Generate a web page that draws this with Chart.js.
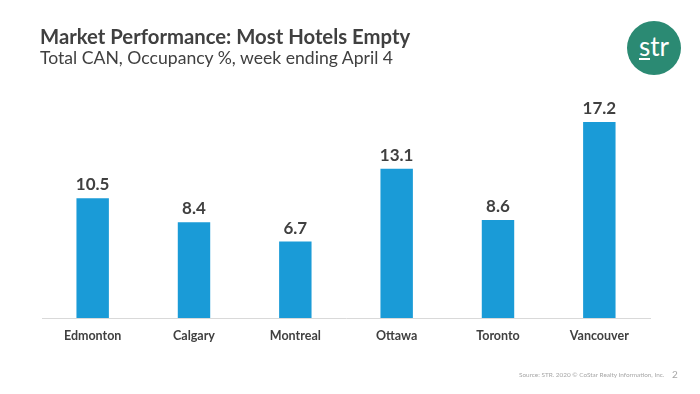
<!DOCTYPE html>
<html>
<head>
<meta charset="utf-8">
<script src="https://cdn.jsdelivr.net/npm/chart.js@4/dist/chart.umd.min.js"></script>
<style>
  body { margin: 0; background: #fff; }
  #wrap { position: relative; width: 700px; height: 394px; overflow: hidden; font-family: Lato, "Open Sans", sans-serif; }
  #chart { position: absolute; left: 0; top: 0; }
  .title { position: absolute; left: 40px; top: 24px; font-size: 20.3px; font-weight: bold; color: #404040; }
  .sub { position: absolute; left: 40px; top: 47px; font-size: 17.6px; color: #404040; }
  .logo { position: absolute; left: 627px; top: 21px; width: 54px; height: 54px; border-radius: 50%; background: #2b8a73; color: #fff; font-size: 26px; text-align: center; line-height: 50px; }
  .logo span { border-bottom: 2px solid #fff; display: inline-block; line-height: 24px; }
  .src { position: absolute; left: 519px; top: 371px; font-size: 6.4px; color: #a6a6a6; }
  .pg { position: absolute; left: 672px; top: 368px; font-size: 10px; color: #a6a6a6; }
</style>
</head>
<body>
<div id="wrap">
  <canvas id="chart" width="700" height="394"></canvas>
  <div class="title">Market Performance: Most Hotels Empty</div>
  <div class="sub">Total CAN, Occupancy %, week ending April 4</div>
  <div class="logo"><span>s</span>tr</div>
  <div class="src">Source: STR. 2020 © CoStar Realty Information, Inc.</div>
  <div class="pg">2</div>
</div>
<script>
const markets = ['Edmonton', 'Calgary', 'Montreal', 'Ottawa', 'Toronto', 'Vancouver'];
const occupancy = [10.5, 8.4, 6.7, 13.1, 8.6, 17.2];

// value labels above each bar
const valueLabels = {
    id: 'valueLabels',
    afterDatasetsDraw(chart) {
        const ctx = chart.ctx;
        const meta = chart.getDatasetMeta(0);
        ctx.save();
        ctx.font = 'bold 17px Lato, "Open Sans", sans-serif';
        ctx.fillStyle = '#404040';
        ctx.textAlign = 'center';
        ctx.textBaseline = 'bottom';
        meta.data.forEach((bar, i) => {
            ctx.fillText(occupancy[i].toFixed(1), bar.x, bar.y - 5);
        });
        ctx.restore();
    }
};

const myChart = new Chart(document.getElementById('chart'), {
    type: 'bar',
    data: {
        labels: markets,
        datasets: [{
            data: occupancy,
            backgroundColor: '#1a9bd7',
            categoryPercentage: 1,
            barPercentage: 0.32
        }]
    },
    options: {
        responsive: false,
        animation: false,
        layout: { padding: { left: 42, right: 50, top: 90, bottom: 0 } },
        plugins: { legend: { display: false }, tooltip: { enabled: false } },
        scales: {
            x: {
                grid: { display: false, drawTicks: false },
                border: { display: true, color: '#d9d9d9', width: 1 },
                ticks: {
                    color: '#404040',
                    padding: 10,
                    font: { family: 'Lato, "Open Sans", sans-serif', size: 12.5, weight: 'bold' }
                },
                afterFit(scale) { scale.height = 76; }
            },
            y: { display: false, min: 0, max: 20 }
        }
    },
    plugins: [valueLabels]
});
</script>
</body>
</html>
